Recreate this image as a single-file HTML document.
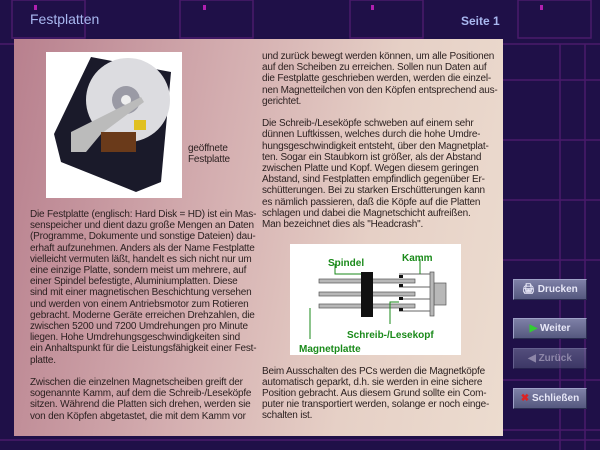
<!DOCTYPE html>
<html><head><meta charset="utf-8"><style>
*{margin:0;padding:0}
body{width:600px;height:450px;overflow:hidden;background:#1f1048;position:relative;font-family:"Liberation Sans",sans-serif}
.t{position:absolute;font-size:10px;line-height:11.2px;color:#2a1f1f;white-space:nowrap;letter-spacing:-0.2px}
.btn{position:absolute;left:513px;width:74px;height:21px;background:linear-gradient(#7e80a6,#55587f);border:1px solid #9fa2c8;border-right-color:#2a2c50;border-bottom-color:#2a2c50;color:#e8e8f8;font-weight:bold;font-size:10px;line-height:19px;box-sizing:border-box;text-align:center}
</style></head><body>
<svg width="600" height="450" style="position:absolute;left:0;top:0">
<g stroke="#4a1a6a" stroke-width="1.5" fill="none">
<rect x="12" y="0" width="73" height="38"/><rect x="180" y="0" width="73" height="38"/><rect x="350" y="0" width="73" height="38"/><rect x="518" y="0" width="73" height="38"/>
<line x1="0" y1="44" x2="600" y2="44"/><line x1="503" y1="80" x2="600" y2="80"/><line x1="503" y1="140" x2="600" y2="140"/><line x1="503" y1="200" x2="600" y2="200"/><line x1="503" y1="260" x2="600" y2="260"/><line x1="503" y1="380" x2="600" y2="380"/><line x1="503" y1="430" x2="600" y2="430"/>
<line x1="560" y1="44" x2="560" y2="450"/><line x1="585" y1="44" x2="585" y2="450"/><line x1="0" y1="440" x2="600" y2="440"/>
</g>
<g fill="#b020b0"><rect x="34" y="5" width="3" height="5"/><rect x="203" y="5" width="3" height="5"/><rect x="371" y="5" width="3" height="5"/><rect x="540" y="5" width="3" height="5"/></g>
</svg>
<div style="position:absolute;left:30px;top:11px;font-size:14px;color:#a9b8f0">Festplatten</div>
<div style="position:absolute;left:461px;top:14px;font-size:12px;color:#a9b8f0;font-weight:bold">Seite 1</div>
<div style="position:absolute;left:14px;top:39px;width:489px;height:397px;background:linear-gradient(100deg,#b8808e 0%,#d4aeb0 40%,#e6d0c6 70%,#ecdccf 100%)"></div>
<div style="position:absolute;left:46px;top:52px;width:136px;height:146px;background:#fff"></div>
<svg width="136" height="146" style="position:absolute;left:46px;top:52px">
<polygon points="8,82 45,5 125,20 115,130 90,140 15,110" fill="#1a1a2a"/>
<circle cx="82" cy="48" r="42" fill="#dcdce0"/><circle cx="80" cy="48" r="14" fill="#9a9aa5"/><circle cx="80" cy="48" r="5" fill="#eee"/>
<polygon points="25,80 45,70 95,45 98,50 55,82 40,100 25,100" fill="#bbb"/>
<rect x="55" y="80" width="35" height="20" fill="#6a3a1a"/><rect x="88" y="68" width="12" height="10" fill="#e0c020"/>
</svg>
<div class="t" style="left:188px;top:143px">geöffnete<br>Festplatte</div>
<div class="t" style="left:30px;top:209px">Die Festplatte (englisch: Hard Disk = HD) ist ein Mas-<br>senspeicher und dient dazu große Mengen an Daten<br>(Programme, Dokumente und sonstige Dateien) dau-<br>erhaft aufzunehmen. Anders als der Name Festplatte<br>vielleicht vermuten läßt, handelt es sich nicht nur um<br>eine einzige Platte, sondern meist um mehrere, auf<br>einer Spindel befestigte, Aluminiumplatten. Diese<br>sind mit einer magnetischen Beschichtung versehen<br>und werden von einem Antriebsmotor zum Rotieren<br>gebracht. Moderne Geräte erreichen Drehzahlen, die<br>zwischen 5200 und 7200 Umdrehungen pro Minute<br>liegen. Hohe Umdrehungsgeschwindigkeiten sind<br>ein Anhaltspunkt für die Leistungsfähigkeit einer Fest-<br>platte.<br><br>Zwischen die einzelnen Magnetscheiben greift der<br>sogenannte Kamm, auf dem die Schreib-/Leseköpfe<br>sitzen. Während die Platten sich drehen, werden sie<br>von den Köpfen abgetastet, die mit dem Kamm vor</div>
<div class="t" style="left:262px;top:51px">und zurück bewegt werden können, um alle Positionen<br>auf den Scheiben zu erreichen. Sollen nun Daten auf<br>die Festplatte geschrieben werden, werden die einzel-<br>nen Magnetteilchen von den Köpfen entsprechend aus-<br>gerichtet.<br><br>Die Schreib-/Leseköpfe schweben auf einem sehr<br>dünnen Luftkissen, welches durch die hohe Umdre-<br>hungsgeschwindigkeit entsteht, über den Magnetplat-<br>ten. Sogar ein Staubkorn ist größer, als der Abstand<br>zwischen Platte und Kopf. Wegen diesem geringen<br>Abstand, sind Festplatten empfindlich gegenüber Er-<br>schütterungen. Bei zu starken Erschütterungen kann<br>es nämlich passieren, daß die Köpfe auf die Platten<br>schlagen und dabei die Magnetschicht aufreißen.<br>Man bezeichnet dies als "Headcrash".</div>
<svg width="171" height="111" style="position:absolute;left:290px;top:244px;background:#fff">
<g fill="#b8b8b8" stroke="#555" stroke-width="0.7">
<rect x="29" y="35" width="96" height="4"/><rect x="29" y="48" width="96" height="4"/><rect x="29" y="60" width="96" height="4"/>
<rect x="144" y="39" width="12" height="22"/><rect x="140" y="28" width="4" height="44"/>
</g>
<rect x="71" y="28" width="12" height="45" fill="#111"/>
<g stroke="#666" stroke-width="1"><line x1="109" y1="30" x2="140" y2="30"/><line x1="109" y1="43" x2="140" y2="43"/><line x1="109" y1="55" x2="140" y2="55"/><line x1="109" y1="67" x2="140" y2="67"/></g>
<g fill="#111"><rect x="109" y="31" width="4" height="3"/><rect x="109" y="40" width="4" height="3"/><rect x="109" y="53" width="4" height="3"/><rect x="109" y="64" width="4" height="3"/></g>
<g stroke="#1a8a1a" stroke-width="1" fill="none"><polyline points="45,20 45,30 71,30"/><polyline points="130,15 130,30"/><polyline points="109,58 100,58 100,80"/><line x1="20" y1="64" x2="20" y2="95"/></g>
<g fill="#1a8a1a" font-size="10" font-weight="bold" font-family="Liberation Sans,sans-serif"><text x="38" y="22">Spindel</text><text x="112" y="17">Kamm</text><text x="57" y="94">Schreib-/Lesekopf</text><text x="9" y="108">Magnetplatte</text></g>
</svg>
<div class="t" style="left:262px;top:366px;line-height:11px">Beim Ausschalten des PCs werden die Magnetköpfe<br>automatisch geparkt, d.h. sie werden in eine sichere<br>Position gebracht. Aus diesem Grund sollte ein Com-<br>puter nie transportiert werden, solange er noch einge-<br>schalten ist.</div>
<div class="btn" style="top:279px">&#128424; Drucken</div>
<div class="btn" style="top:318px"><span style="color:#3c3">&#9654;</span> Weiter</div>
<div class="btn" style="top:348px;opacity:.55">&#9664; Zurück</div>
<div class="btn" style="top:388px"><span style="color:#d22">&#10006;</span> Schließen</div>
</body></html>
